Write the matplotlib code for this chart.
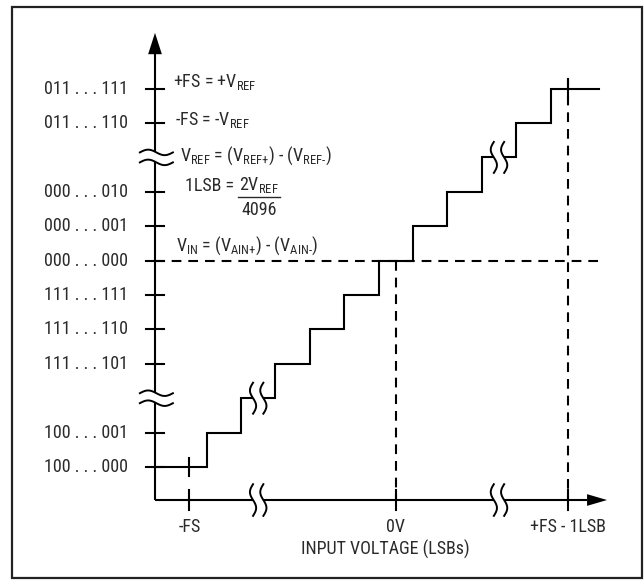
import numpy as np
import matplotlib
matplotlib.use("Agg")
import matplotlib.pyplot as plt
from matplotlib.patches import Rectangle, Polygon
from matplotlib import font_manager as fm

names = {f.name for f in fm.fontManager.ttflist}
cands = ['Liberation Sans Narrow', 'Roboto Condensed', 'DejaVu Sans Condensed', 'Open Sans Condensed']
chosen = next((c for c in cands if c in names), 'Liberation Sans')
narrow = chosen != 'Liberation Sans'

plt.rcParams['font.family'] = [chosen, 'DejaVu Sans']
plt.rcParams['mathtext.fontset'] = 'custom'
plt.rcParams['mathtext.rm'] = chosen
plt.rcParams['mathtext.default'] = 'rm'
plt.rcParams['lines.scale_dashes'] = False

# ---- data (schematic units: x in LSB, y in code index) ----
code_levels = [0, 1, 3, 4, 5, 6, 7, 8, 10, 11]
code_labels = ['100 . . . 000', '100 . . . 001', '111 . . . 101', '111 . . . 110',
               '111 . . . 111', '000 . . . 000', '000 . . . 001', '000 . . . 010',
               '011 . . . 110', '011 . . . 111']
break_levels = [2, 9]
step_edges = [-7, -5.5, -4.5, -3.5, -2.5, -1.5, -0.5, 0.5, 1.5, 2.5, 3.5, 4.5, 5.9]
step_codes = [0, 1, 2, 3, 4, 5, 6, 7, 8, 9, 10, 11]
step_break_x = [-4.0, 3.0]
axis_break_x = [-4.0, 3.0]
xtick_pos = [-6, 0, 5]
xtick_labels = ['-FS', '0V', '+FS - 1LSB']
zero_code = 6
full_scale_code = 11
x_title = 'INPUT VOLTAGE (LSBs)'

# ---- layout ----
S = 34.4
W, H = 644, 580
fig = plt.figure(figsize=(W / 100, H / 100), dpi=100)
ax = fig.add_axes([0, 0, 1, 1])
ax.set_xlim(-7 - 155 / S, -7 + (W - 155) / S)
ax.set_ylim((467 - H) / S, 467 / S)
ax.axis('off')

fig.patches.append(Rectangle((12 / W, 2 / H), 630 / W, 571 / H, transform=fig.transFigure,
                             fill=False, edgecolor='#222222', linewidth=1.6))

LW = 1.5
K = 'black'
TC = '#2a2a2a'
FS = 13 if narrow else 10.5
x_axis_y = -0.96
y_axis_x = -7

# axes lines + arrowheads
ax.plot([y_axis_x, y_axis_x], [x_axis_y, 12.0], color=K, lw=LW, solid_capstyle='butt')
ax.add_patch(Polygon([[y_axis_x - 0.2, 12.0], [y_axis_x + 0.2, 12.0], [y_axis_x, 12.62]],
                     closed=True, color=K, lw=0))
ax.plot([y_axis_x, 5.56], [x_axis_y, x_axis_y], color=K, lw=LW, solid_capstyle='butt')
ax.add_patch(Polygon([[5.56, x_axis_y - 0.17], [5.56, x_axis_y + 0.17], [6.14, x_axis_y]],
                     closed=True, color=K, lw=0))

# y ticks and labels
for lv, lab in zip(code_levels, code_labels):
    ax.plot([y_axis_x - 0.27, y_axis_x + 0.27], [lv, lv], color=K, lw=LW)
    ax.text(-7.785, lv, lab, ha='right', va='center', fontsize=FS, color=TC)

# x ticks and labels
for xp, lab in zip(xtick_pos, xtick_labels):
    ax.plot([xp, xp], [x_axis_y - 0.3, x_axis_y + 0.3], color=K, lw=LW)
    ax.text(xp, -1.74, lab, ha='center', va='center', fontsize=FS, color=TC)
ax.text(-0.31, -2.41, x_title, ha='center', va='center', fontsize=FS, color=TC)

# dashed reference lines
dash = (0, (7, 5))
ax.plot([y_axis_x, step_edges[-1]], [zero_code, zero_code], color=K, lw=LW, linestyle=dash)
ax.plot([0, 0], [zero_code, x_axis_y], color=K, lw=LW, linestyle=dash)
ax.plot([5, 5], [full_scale_code + 0.27, x_axis_y], color=K, lw=LW, linestyle=dash)

# staircase
xs, ys = [], []
for i, c in enumerate(step_codes):
    xs += [step_edges[i], step_edges[i + 1]]
    ys += [c, c]
ax.plot(xs, ys, color=K, lw=LW, solid_joinstyle='miter')

# small ticks on staircase
ax.plot([-6, -6], [-0.27, 0.27], color=K, lw=LW)
ax.plot([5, 5], [full_scale_code - 0.27, full_scale_code + 0.27], color=K, lw=LW)

# break symbols on horizontal lines (vertical S-curves)
def vbreak(xc, yc, half_h=0.45, gap=0.15, amp=0.09):
    t = np.linspace(0, 1, 60)
    yy = yc + half_h * (1 - 2 * t)
    off = -amp * np.sin(2 * np.pi * t)
    ax.fill_betweenx(yy, xc - gap + off, xc + gap + off, color='white', lw=0, zorder=5)
    ax.plot(xc - gap + off, yy, color=K, lw=1.4, zorder=6)
    ax.plot(xc + gap + off, yy, color=K, lw=1.4, zorder=6)

for xb, lv in zip(step_break_x, break_levels):
    vbreak(xb, lv)
for xb in axis_break_x:
    vbreak(xb, x_axis_y, half_h=0.46)

# break symbols on y axis (horizontal waves)
def hbreak(xc, yc, half_w=0.48, gap=0.145, amp=0.08):
    xx = np.linspace(xc - half_w, xc + half_w, 60)
    off = amp * np.sin(2 * np.pi * (xx - (xc - half_w)) / (2 * half_w))
    ax.fill_between(xx, yc - gap + off, yc + gap + off, color='white', lw=0, zorder=5)
    ax.plot(xx, yc - gap + off, color=K, lw=1.4, zorder=6)
    ax.plot(xx, yc + gap + off, color=K, lw=1.4, zorder=6)

for lv in break_levels:
    hbreak(y_axis_x + 0.04, lv)

# annotations
ax.text(-6.48, 11.19, r'+FS = +V$_{REF}$', ha='left', va='center', fontsize=FS, color=TC)
ax.text(-6.42, 10.09, r'-FS = -V$_{REF}$', ha='left', va='center', fontsize=FS, color=TC)
ax.text(-6.27, 9.04, r'V$_{REF}$ = (V$_{\text{REF+}}$) - (V$_{\text{REF-}}$)', ha='left',
        va='center', fontsize=FS, color=TC, zorder=7)
ax.text(-6.13, 8.17, '1LSB =', ha='left', va='center', fontsize=FS, color=TC)
ax.text(-4.55, 8.2, r'2V$_{REF}$', ha='left', va='center', fontsize=FS, color=TC)
ax.plot([-4.6, -3.38], [7.84, 7.84], color=TC, lw=1.0)
ax.text(-3.98, 7.47, '4096', ha='center', va='center', fontsize=FS, color=TC)
ax.text(-6.39, 6.42, r'V$_{IN}$ = (V$_{\text{AIN+}}$) - (V$_{\text{AIN-}}$)', ha='left',
        va='center', fontsize=FS, color=TC)

fig.savefig('out.png', dpi=100)
